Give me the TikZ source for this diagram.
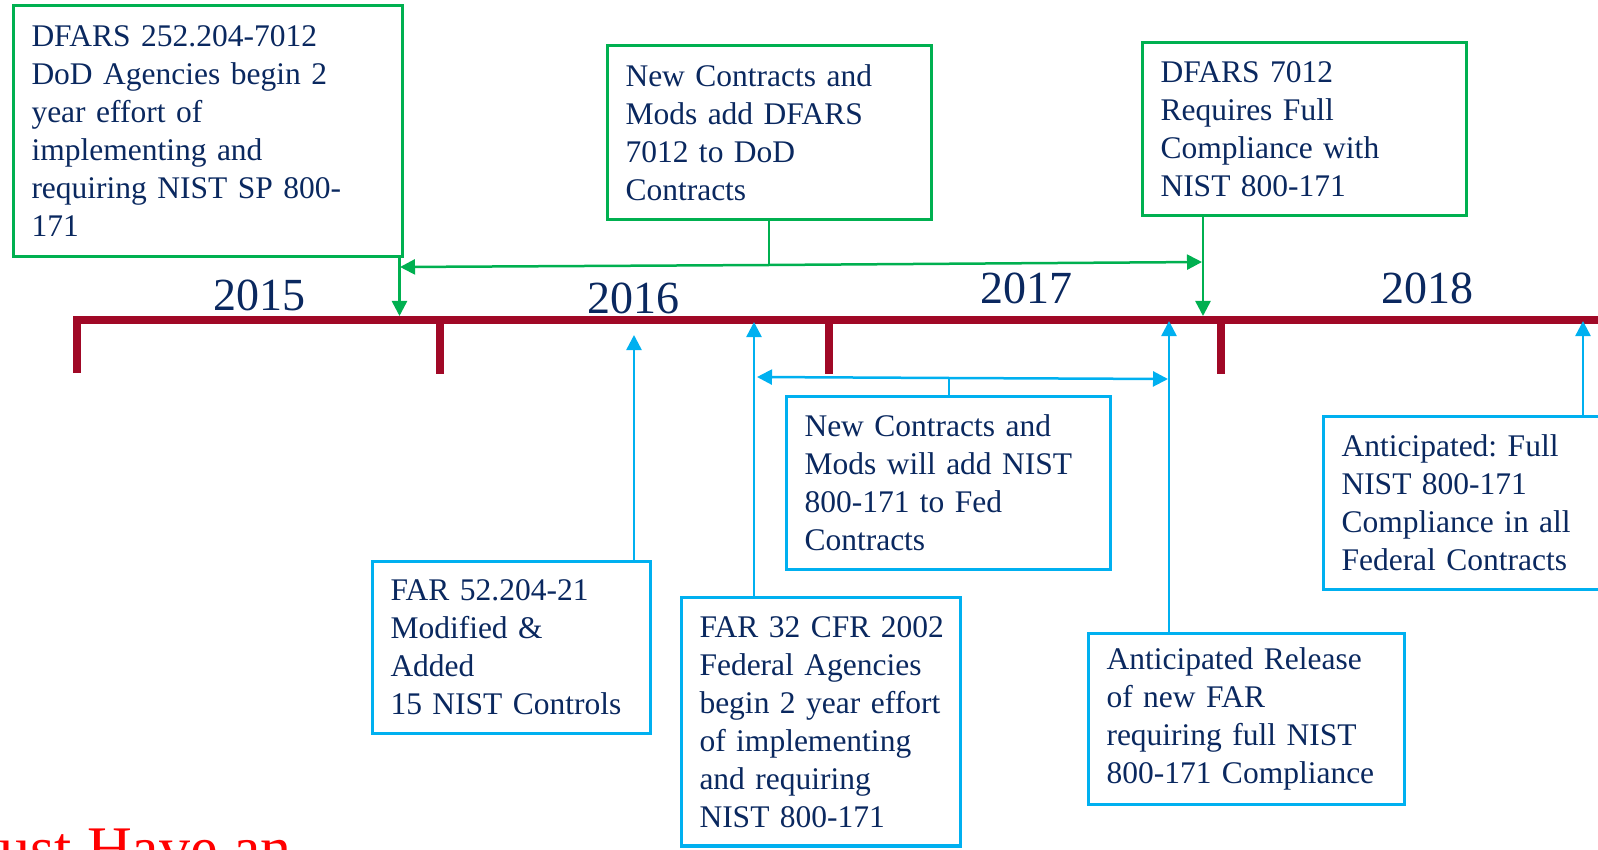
\documentclass[tikz,border=0pt]{standalone}
\usepackage{fontspec}
\setmainfont{Liberation Serif}
\usetikzlibrary{arrows.meta}
\definecolor{ggreen}{HTML}{00B050}
\definecolor{bblue}{HTML}{00B0F0}
\definecolor{tlred}{RGB}{160,8,38}
\definecolor{navy}{RGB}{10,40,95}
\tikzset{
  boxbase/.style={line width=3.5pt, text=navy, align=left, inner xsep=18pt, inner ysep=0pt,
    outer sep=0pt, anchor=north west, font=\fontsize{31.5}{38}\selectfont,
    execute at begin node=\frenchspacing},
  gbox/.style={boxbase, draw=ggreen},
  bbox/.style={boxbase, draw=bblue},
  gline/.style={draw=ggreen, line width=2.5pt},
  garr/.style={gline, -{Triangle[width=15pt,length=15pt]}},
  bline/.style={draw=bblue, line width=2.5pt},
  barr/.style={bline, -{Triangle[width=15pt,length=15pt]}},
  tl/.style={draw=tlred, line width=8pt},
  yearlbl/.style={text=navy, anchor=base, inner sep=0pt, font=\fontsize{46}{50}\selectfont},
}
\begin{document}
\begin{tikzpicture}[x=1pt,y=-1pt]
\useasboundingbox (0,0) rectangle (1598,850);
\clip (0,0) rectangle (1598,850);

% timeline
\draw[tl, line join=miter] (76.5,373) -- (76.5,320) -- (1620,320);
\draw[tl] (440,320) -- (440,374);
\draw[tl] (829,320) -- (829,374);
\draw[tl] (1220.5,320) -- (1220.5,374);

% years
\node[yearlbl] (y15) at (259,311) {2015};
\node[yearlbl] (y16) at (633,313) {2016};
\node[yearlbl] (y17) at (1026,304) {2017};
\node[yearlbl] (y18) at (1427,304) {2018};

% green boxes
\node[gbox, text width=353pt, minimum height=251pt] (b1) at (13.5,5.5)
  {DFARS 252.204-7012\\DoD Agencies begin~2\\year effort of\\implementing and\\requiring NIST SP 800-\\171};
\node[gbox, text width=288pt, minimum height=174pt] (b2) at (607.5,45.5)
  {New Contracts and\\Mods add DFARS\\7012 to DoD\\Contracts};
\node[gbox, text width=288pt, minimum height=173pt] (b3) at (1142.5,42.5)
  {DFARS 7012\\Requires Full\\Compliance with\\NIST 800-171};

% blue boxes
\node[bbox, text width=288pt, minimum height=173pt] (b4) at (786.5,396.5)
  {New Contracts and\\Mods will add NIST\\800-171 to Fed\\Contracts};
\node[bbox, text width=242pt, minimum height=172pt] (b5) at (372.5,561.5)
  {FAR 52.204-21\\Modified \&\\Added\\15~NIST~Controls};
\node[bbox, text width=243pt, minimum height=248.5pt] (b6) at (681.5,597.5)
  {FAR~32~CFR~2002\\Federal Agencies\\begin~2~year~effort\\of implementing\\and requiring\\NIST 800-171};
\node[bbox, text width=280pt, minimum height=171pt] (b7) at (1088.5,633.5)
  {Anticipated Release\\of new FAR\\requiring full NIST\\800-171~Compliance};
\node[bbox, text width=280pt, minimum height=173pt] (b8) at (1323.5,416.5)
  {Anticipated: Full\\NIST 800-171\\Compliance in all\\Federal Contracts};

% green connectors
\coordinate (tA) at (399.5,316);
\coordinate (tB) at (1203,316);
\coordinate (jg) at (769,265);
\coordinate (gL) at (400,267);
\coordinate (gR) at (1202,262);
\draw[garr] (b1.south -| tA) -- (tA);
\draw[gline] (b2.south -| jg) -- (jg);
\draw[garr] (jg) -- (gL);
\draw[garr] (jg) -- (gR);
\draw[garr] (b3.south -| tB) -- (tB);

% blue connectors
\coordinate (tC) at (634,335);
\coordinate (tD) at (754,322);
\coordinate (jb) at (949,378);
\coordinate (bL) at (757,377);
\coordinate (bR) at (1168,379);
\coordinate (tE) at (1169,321);
\coordinate (tF) at (1583,321);
\draw[barr] (b5.north -| tC) -- (tC);
\draw[barr] (b6.north -| tD) -- (tD);
\draw[bline] (b4.north -| jb) -- (jb);
\draw[barr] (jb) -- (bL);
\draw[barr] (jb) -- (bR);
\draw[barr] (b7.north -| tE) -- (tE);
\draw[barr] (b8.north -| tF) -- (tF);

% red text cut off at the bottom
\node[text=red, anchor=base west, inner sep=0pt, font=\fontsize{62}{70}\selectfont] (rt) at (-1,869) {ust Have an};
\end{tikzpicture}
\end{document}
